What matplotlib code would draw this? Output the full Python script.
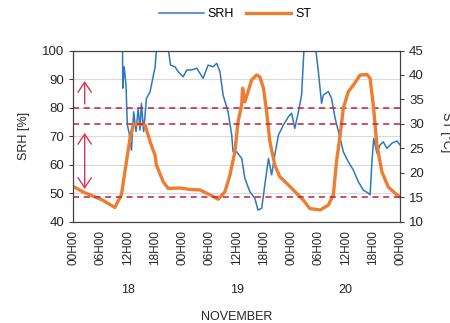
import matplotlib
matplotlib.use("Agg")
import matplotlib.pyplot as plt

plt.rcParams['font.family'] = ['Liberation Sans', 'DejaVu Sans']

# ---- data (hours since 18 Nov 00H00) ----
srh_hours = [0, 10.8, 10.9, 11.2, 11.6, 11.9, 12.3, 12.8, 13.3, 13.8, 14.3, 14.7, 15.0, 15.5,
             16.1, 16.9, 17.6, 18.0, 18.35, 20.9, 21.4, 22.4, 23.1, 24.2, 25.0, 26.1, 27.2,
             27.9, 28.6, 29.7, 30.8, 31.6, 32.3, 33.0, 34.1, 34.9, 35.2, 36.0, 37.1, 37.8,
             38.9, 40.0, 40.7, 41.5, 42.2, 43.0, 43.7, 44.4, 45.2, 46.3, 47.4, 48.1, 48.8,
             49.6, 50.3, 50.8, 51.0, 53.3, 54.0, 54.7, 55.1, 56.2, 56.9, 57.7, 58.8, 59.5,
             60.6, 61.7, 62.8, 63.9, 65.0, 65.4, 65.8, 66.2, 66.9, 67.6, 68.3, 69.1, 70.2,
             71.3, 72.0]
srh_values = [110, 110, 86.8, 94.3, 87.9, 73.9, 71.0, 65.1, 78.5, 71.6, 79.7, 72.1, 81.5, 71.6,
              83.2, 85.5, 91.0, 94.0, 101, 101, 94.9, 94.3, 92.6, 90.8, 93.2, 93.2, 93.8,
              92.0, 90.3, 94.9, 94.3, 95.5, 92.6, 84.4, 78.5, 70.4, 64.5, 64.5, 62.2, 55.2,
              50.5, 48.2, 44.1, 44.7, 52.9, 62.2, 56.4, 63.4, 70.4, 73.9, 76.8, 78.0, 72.7,
              78.5, 84.4, 99.6, 102, 102, 92.6, 81.5, 84.4, 85.6, 83.2, 76.2, 69.2, 64.5,
              61.0, 58.1, 54.0, 51.1, 50.0, 49.4, 61.0, 69.2, 64.0, 66.9, 68.0, 65.7, 67.5,
              68.3, 66.9]

st_hours = [0, 2.1, 6.5, 9.15, 10.6, 11.7, 12.5, 13.2, 14.4, 15.8, 16.9, 18.0, 18.3, 19.8,
            20.9, 23.5, 25.7, 27.9, 30.1, 31.9, 33.4, 34.5, 35.6, 36.3, 37.1, 37.3, 37.8,
            38.5, 39.3, 40.4, 41.1, 41.9, 42.6, 43.3, 44.4, 45.5, 47.4, 49.2, 50.7, 52.1,
            54.4, 56.2, 57.3, 58.0, 58.8, 59.5, 60.6, 61.7, 63.2, 64.7, 65.4, 66.1, 66.9,
            68.0, 69.4, 71.3, 72.0]
st_values = [17.2, 16.1, 14.4, 12.9, 15.5, 22.3, 27.1, 29.8, 30.0, 29.8, 26.4, 23.6, 21.6, 18.2,
             16.8, 16.9, 16.6, 16.5, 15.5, 14.6, 16.1, 19.5, 24.3, 30.4, 33.9, 37.3, 34.5,
             36.6, 39.0, 40.0, 39.6, 37.3, 32.5, 26.4, 21.6, 19.2, 17.5, 15.8, 14.4, 12.7,
             12.4, 13.4, 15.5, 22.3, 27.7, 33.2, 36.6, 37.9, 40.0, 40.1, 39.3, 33.9, 25.7,
             20.2, 17.1, 15.5, 15.1]

tick_hours = list(range(0, 73, 6))
tick_labels = ['00H00', '06H00', '12H00', '18H00'] * 3 + ['00H00']
day_hours = [12, 36, 60]
day_labels = ['18', '19', '20']
srh_limit = 80
st_limits = [15, 30]
arrow_hour = 2.5
arrow_up = (80.3, 90.3)
arrow_both = (72.1, 50.5)

# ---- figure ----
fig = plt.figure(figsize=(4.5, 3.23), dpi=100)
ax = fig.add_axes([0.163, 0.3136, 0.726, 0.530])
ax2 = ax.twinx()

blue = '#2e78be'
orange = '#ed7d31'
red_dash = '#c41e3a'
red_arrow = '#dd3550'
txt = '#262626'

l1, = ax.plot(srh_hours, srh_values, color=blue, lw=1.1, label='SRH')
l2, = ax2.plot(st_hours, st_values, color=orange, lw=2.4, label='ST')

ax.set_xlim(0, 72)
ax.set_ylim(40, 100)
ax2.set_ylim(10, 45)
ax.set_yticks(range(40, 101, 10))
ax2.set_yticks(range(10, 46, 5))
ax.yaxis.grid(True, color='#d9d9d9', lw=0.8)
ax.set_axisbelow(True)

ax.axhline(srh_limit, color=red_dash, lw=1.1, ls=(0, (4, 3)))
for v in st_limits:
    ax2.axhline(v, color=red_dash, lw=1.1, ls=(0, (4, 3)))

ax.annotate('', xy=(arrow_hour, arrow_up[1]), xytext=(arrow_hour, arrow_up[0]),
            arrowprops=dict(arrowstyle='->,head_width=0.3,head_length=0.45',
                            color=red_arrow, lw=1.0, mutation_scale=16))
ax.annotate('', xy=(arrow_hour, arrow_both[1]), xytext=(arrow_hour, arrow_both[0]),
            arrowprops=dict(arrowstyle='<->,head_width=0.3,head_length=0.45',
                            color=red_arrow, lw=1.0, mutation_scale=16))

ax.set_xticks(tick_hours)
ax.set_xticklabels(tick_labels, rotation=90, fontsize=8.5, color=txt)
ax.tick_params(axis='x', length=0, pad=6)
ax.tick_params(axis='y', labelsize=9.5, labelcolor=txt, length=3, color='#404040')
ax2.tick_params(axis='y', labelsize=9.5, labelcolor=txt, length=3, color='#404040')

for s in ['left', 'right', 'top', 'bottom']:
    ax.spines[s].set_color('#404040')
    ax2.spines[s].set_color('#404040')

for h, d in zip(day_hours, day_labels):
    ax.text(h, -0.40, d, transform=ax.get_xaxis_transform(), ha='center', va='center',
            fontsize=9, color=txt)
ax.text(0.5, -0.555, 'NOVEMBER', transform=ax.transAxes, ha='center', va='center',
        fontsize=9, color=txt)

fig.text(0.053, 0.58, 'SRH [%]', rotation=90, ha='center', va='center', fontsize=9, color=txt)
fig.text(0.978, 0.59, 'ST [°C]', rotation=270, ha='left', va='center', fontsize=9, color=txt)

fig.legend(handles=[l1, l2], loc='center', bbox_to_anchor=(0.522, 0.957), ncol=2,
           frameon=False, fontsize=9, handlelength=3.6, columnspacing=1.0, handletextpad=0.3)

fig.savefig('out.png', dpi=100)
